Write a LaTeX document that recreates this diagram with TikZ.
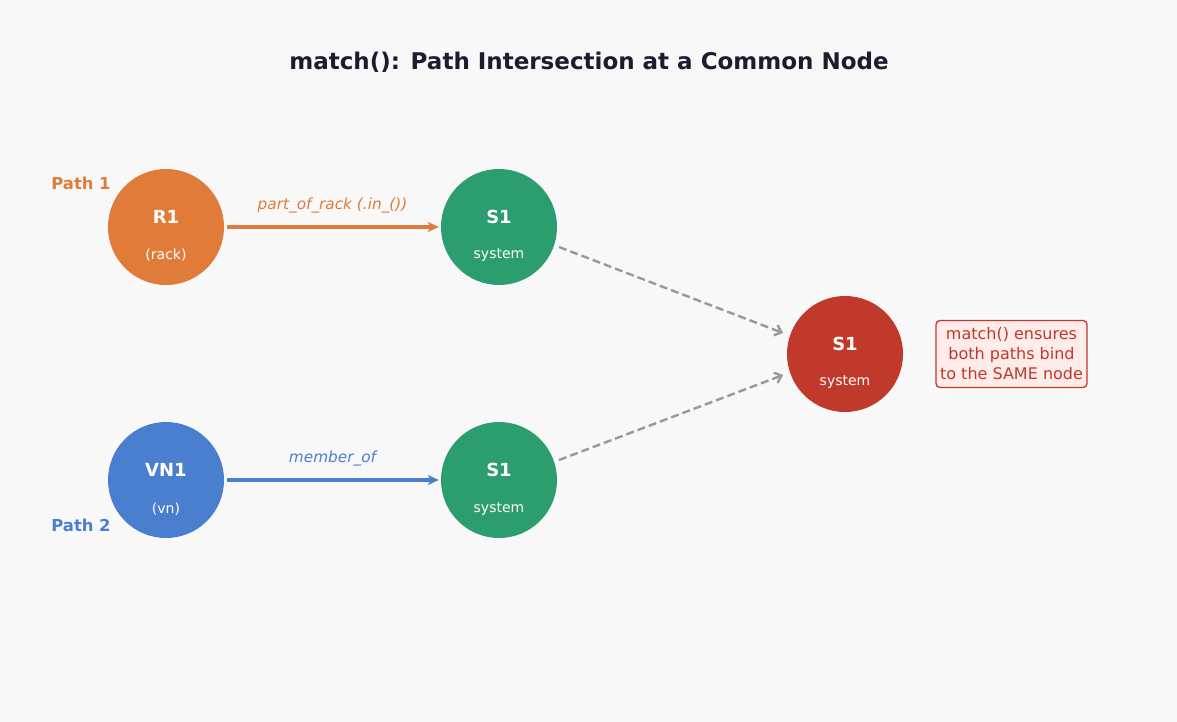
\documentclass[tikz,border=0pt]{standalone}
\usepackage{fontspec}
\setmainfont{DejaVu Sans}
\usetikzlibrary{arrows.meta}
\definecolor{bg}{HTML}{F8F8F8}
\definecolor{cOrange}{HTML}{E07B39}
\definecolor{cGreen}{HTML}{2C9D6E}
\definecolor{cBlue}{HTML}{4A7FD0}
\definecolor{cRed}{HTML}{C0392B}
\definecolor{cTitle}{HTML}{1C1C30}
\definecolor{cGray}{HTML}{999999}
\definecolor{cPink}{HTML}{FDECEA}
\tikzset{
  ent/.style={circle, minimum size=116pt, inner sep=0pt, draw=none},
  ttl/.style={font=\bfseries\fontsize{18}{21}\selectfont, text=white},
  sub/.style={font=\fontsize{14}{17}\selectfont, text=white},
  pathlbl/.style={font=\bfseries\fontsize{16.4}{19}\selectfont},
  edgelbl/.style={font=\itshape\fontsize{15.3}{18}\selectfont},
  solidarrow/.style={line width=3.2pt, -{Stealth[length=11pt,width=10pt,inset=3pt]}},
  dasharrow/.style={cGray, line width=2.4pt, dash pattern=on 8pt off 4pt, -{Straight Barb[length=6pt,width=11pt]}},
}
\begin{document}
\begin{tikzpicture}[x=1pt,y=-1pt]
\fill[bg] (0,0) rectangle (1177,722);
\useasboundingbox (0,0) rectangle (1177,722);

\node[font=\bfseries\fontsize{23}{27}\selectfont, text=cTitle] (title) at (589,62) {match(): Path Intersection at a Common Node};

% nodes
\node[ent, fill=cOrange] (r1) at (166,227) {};
\node[ttl] (r1t) at (166,217) {R1};
\node[sub] (r1s) at (166,255.5) {(rack)};

\node[ent, fill=cGreen] (s1a) at (499,227) {};
\node[ttl] (s1at) at (499,217) {S1};
\node[sub] (s1as) at (499,255.5) {system};

\node[ent, fill=cBlue] (vn1) at (166,480) {};
\node[ttl] (vn1t) at (166,470) {VN1};
\node[sub] (vn1s) at (166,509.5) {(vn)};

\node[ent, fill=cGreen] (s1b) at (499,480) {};
\node[ttl] (s1bt) at (499,470) {S1};
\node[sub] (s1bs) at (499,509.5) {system};

\node[ent, fill=cRed] (s1c) at (845,354) {};
\node[ttl] (s1ct) at (845,344) {S1};
\node[sub] (s1cs) at (845,382.5) {system};

% path labels
\node[pathlbl, text=cOrange] (p1) at (81,183) {Path 1};
\node[pathlbl, text=cBlue] (p2) at (81,525) {Path 2};

% edges
\draw[solidarrow, cOrange, shorten <=3pt, shorten >=2pt] (r1) -- (s1a)
  node[midway, above=9pt, edgelbl, text=cOrange] (e1) {part\_of\_rack (.in\_())};
\draw[solidarrow, cBlue, shorten <=3pt, shorten >=2pt] (vn1) -- (s1b)
  node[midway, above=9pt, edgelbl, text=cBlue] (e2) {member\_of};

\coordinate (d1s) at (559,247);
\coordinate (d1e) at (783,333);
\coordinate (d2s) at (559,460);
\coordinate (d2e) at (783,375);
\draw[dasharrow] (d1s) -- (d1e);
\draw[dasharrow] (d2s) -- (d2e);

% annotation
\node[draw=cRed, fill=cPink, line width=1.3pt, rounded corners=4pt, align=center,
  text=cRed, font=\fontsize{16}{20}\selectfont, inner xsep=3pt, inner ysep=3pt,
  minimum width=151pt, minimum height=67pt] (note) at (1011.5,354)
  {match() ensures\\both paths bind\\to the SAME node};
\end{tikzpicture}
\end{document}
